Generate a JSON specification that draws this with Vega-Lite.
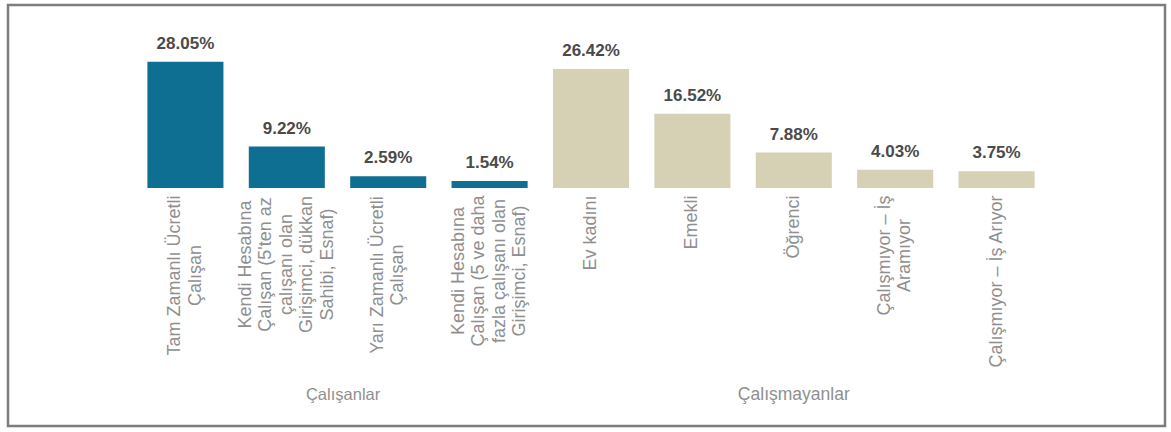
{
  "$schema": "https://vega.github.io/schema/vega-lite/v6.json",
  "width": 1157,
  "height": 421,
  "autosize": "none",
  "padding": {"left": 8, "top": 5, "right": 6, "bottom": 6},
  "background": "white",
  "config": {
    "view": {"stroke": "#7d7d7d", "strokeWidth": 2.5},
    "font": "Liberation Sans"
  },
  "data": {
    "values": [
      {"cat": "Tam Zamanlı Ücretli|Çalışan", "value": 0.2805, "group": "Çalışanlar"},
      {"cat": "Kendi Hesabına|Çalışan (5'ten az|çalışanı olan|Girişimci, dükkan|Sahibi, Esnaf)", "value": 0.0922, "group": "Çalışanlar"},
      {"cat": "Yarı Zamanlı Ücretli|Çalışan", "value": 0.0259, "group": "Çalışanlar"},
      {"cat": "Kendi Hesabına|Çalışan (5 ve daha|fazla çalışanı olan|Girişimci, Esnaf)", "value": 0.0154, "group": "Çalışanlar"},
      {"cat": "Ev kadını", "value": 0.2642, "group": "Çalışmayanlar"},
      {"cat": "Emekli", "value": 0.1652, "group": "Çalışmayanlar"},
      {"cat": "Öğrenci", "value": 0.0788, "group": "Çalışmayanlar"},
      {"cat": "Çalışmıyor – İş|Aramıyor", "value": 0.0403, "group": "Çalışmayanlar"},
      {"cat": "Çalışmıyor – İş Arıyor", "value": 0.0375, "group": "Çalışmayanlar"}
    ]
  },
  "encoding": {
    "x": {
      "field": "cat",
      "type": "nominal",
      "sort": null,
      "scale": {"paddingInner": 0.25, "paddingOuter": 1, "range": [38, 1128]},
      "axis": {
        "title": null,
        "labelAngle": -90,
        "domain": false,
        "ticks": false,
        "labelFontSize": 18,
        "labelColor": "#8f8f8f",
        "labelLineHeight": 20.5,
        "labelLimit": 0,
        "labelOverlap": false,
        "labelExpr": "split(datum.label, '|')",
        "offset": -238,
        "labelAlign": {
          "condition": {"test": "indexof(datum.value, '|') >= 0", "value": "center"},
          "value": "right"
        },
        "labelPadding": {
          "condition": [
            {"test": "indexof(datum.value, 'Tam Zamanl') >= 0", "value": 87},
            {"test": "indexof(datum.value, 'Sahibi') >= 0", "value": 76},
            {"test": "indexof(datum.value, 'Yarı Zamanl') >= 0", "value": 86.5},
            {"test": "indexof(datum.value, '5 ve daha') >= 0", "value": 82.5},
            {"test": "indexof(datum.value, 'Aramıyor') >= 0", "value": 67}
          ],
          "value": 7
        },
        "labelOffset": {
          "condition": [
            {"test": "length(split(datum.value, '|')) == 5", "value": -41},
            {"test": "length(split(datum.value, '|')) == 4", "value": -30.75},
            {"test": "length(split(datum.value, '|')) == 2", "value": -10.25}
          ],
          "value": 0
        }
      }
    }
  },
  "layer": [
    {
      "mark": {"type": "bar"},
      "encoding": {
        "y": {"field": "value", "type": "quantitative", "scale": {"domain": [-0.5289, 0.4067], "nice": false}, "axis": null},
        "color": {"field": "group", "type": "nominal", "scale": {"domain": ["Çalışanlar", "Çalışmayanlar"], "range": ["#0f6f92", "#d6d0b4"]}, "legend": null}
      }
    },
    {
      "mark": {"type": "text", "baseline": "bottom", "dy": -9, "fontSize": 17, "fontWeight": "bold", "color": "#4a4a4a"},
      "encoding": {
        "y": {"field": "value", "type": "quantitative"},
        "text": {"field": "value", "type": "quantitative", "format": ".2%"}
      }
    },
    {
      "transform": [{"filter": {"field": "cat", "equal": "Kendi Hesabına|Çalışan (5'ten az|çalışanı olan|Girişimci, dükkan|Sahibi, Esnaf)"}}],
      "mark": {"type": "text", "baseline": "middle", "fontSize": 16.5, "color": "#8f8f8f"},
      "encoding": {
        "x": {"field": "cat", "type": "nominal", "sort": null, "bandPosition": 1.24},
        "y": {"datum": -0.46},
        "text": {"field": "group", "type": "nominal"}
      }
    },
    {
      "transform": [{"filter": {"field": "cat", "equal": "Öğrenci"}}],
      "mark": {"type": "text", "baseline": "middle", "fontSize": 17.5, "color": "#8f8f8f"},
      "encoding": {
        "x": {"field": "cat", "type": "nominal", "sort": null, "bandPosition": 0.5},
        "y": {"datum": -0.46},
        "text": {"field": "group", "type": "nominal"}
      }
    }
  ]
}
